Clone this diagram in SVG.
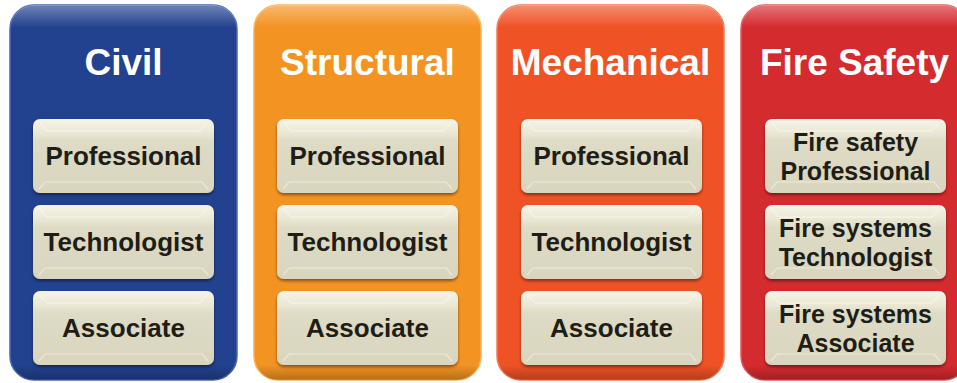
<svg xmlns="http://www.w3.org/2000/svg" width="957" height="383" viewBox="0 0 957 383">
  <defs>
    <linearGradient id="boxg" x1="0" y1="0" x2="0" y2="1">
      <stop offset="0" stop-color="#f6f4e8"/>
      <stop offset="0.18" stop-color="#ebe8d6"/>
      <stop offset="0.3" stop-color="#dedbc6"/>
      <stop offset="1" stop-color="#d9d5be"/>
    </linearGradient>
    <linearGradient id="gloss" x1="0" y1="0" x2="0" y2="1">
      <stop offset="0" stop-color="#ffffff" stop-opacity="0.35"/>
      <stop offset="0.06" stop-color="#ffffff" stop-opacity="0"/>
      <stop offset="0.96" stop-color="#000000" stop-opacity="0"/>
      <stop offset="1" stop-color="#000000" stop-opacity="0.25"/>
    </linearGradient>
    <filter id="sh" x="-10%" y="-10%" width="120%" height="130%">
      <feGaussianBlur in="SourceAlpha" stdDeviation="1.5"/>
      <feOffset dx="0" dy="2" result="b"/>
      <feComponentTransfer><feFuncA type="linear" slope="0.45"/></feComponentTransfer>
      <feMerge><feMergeNode/><feMergeNode in="SourceGraphic"/></feMerge>
    </filter>
    <g id="box">
      <rect x="0" y="0" width="181" height="74" rx="7" fill="url(#boxg)" filter="url(#sh)"/>
      <path d="M6 70 L12 63 L169 63 L175 70" fill="none" stroke="#ece9d9" stroke-width="1.2"/>
      <path d="M7 4 L14 12 L167 12 L174 4" fill="none" stroke="#ffffff" stroke-opacity="0.6" stroke-width="1"/>
    </g>
  </defs>
  <style>
    .hdr { font-family: "Liberation Sans", Arial, sans-serif; font-weight: bold; font-size: 37px; fill: #ffffff; text-anchor: middle; }
    .lbl { font-family: "Liberation Sans", Arial, sans-serif; font-weight: bold; font-size: 26px; fill: #1f1e16; text-anchor: middle; }
    .lbl2 { font-family: "Liberation Sans", Arial, sans-serif; font-weight: bold; font-size: 25px; fill: #1f1e16; text-anchor: middle; }
    .pnl { stroke-width: 1.5; }
  </style>
  <rect width="957" height="383" fill="#ffffff"/>

  <g id="civil">
    <rect class="pnl" x="10" y="5" width="227" height="375" rx="24" fill="#22428f" stroke="#4a69b5"/>
    <rect x="10" y="5" width="227" height="375" rx="24" fill="url(#gloss)"/>
    <text class="hdr" x="123.5" y="75">Civil</text>
    <g id="civil-professional"><use href="#box" x="33" y="119"/><text class="lbl" x="123.5" y="165">Professional</text></g>
    <g id="civil-technologist"><use href="#box" x="33" y="205"/><text class="lbl" x="123.5" y="251">Technologist</text></g>
    <g id="civil-associate"><use href="#box" x="33" y="291"/><text class="lbl" x="123.5" y="337">Associate</text></g>
  </g>

  <g id="structural">
    <rect class="pnl" x="254" y="5" width="227" height="375" rx="24" fill="#f39322" stroke="#f8b35a"/>
    <rect x="254" y="5" width="227" height="375" rx="24" fill="url(#gloss)"/>
    <text class="hdr" x="367.5" y="75">Structural</text>
    <g id="structural-professional"><use href="#box" x="277" y="119"/><text class="lbl" x="367.5" y="165">Professional</text></g>
    <g id="structural-technologist"><use href="#box" x="277" y="205"/><text class="lbl" x="367.5" y="251">Technologist</text></g>
    <g id="structural-associate"><use href="#box" x="277" y="291"/><text class="lbl" x="367.5" y="337">Associate</text></g>
  </g>

  <g id="mechanical">
    <rect class="pnl" x="497" y="5" width="227" height="375" rx="24" fill="#ef5225" stroke="#f47a55"/>
    <rect x="497" y="5" width="227" height="375" rx="24" fill="url(#gloss)"/>
    <text class="hdr" x="610.5" y="75">Mechanical</text>
    <g id="mechanical-professional"><use href="#box" x="521" y="119"/><text class="lbl" x="611.5" y="165">Professional</text></g>
    <g id="mechanical-technologist"><use href="#box" x="521" y="205"/><text class="lbl" x="611.5" y="251">Technologist</text></g>
    <g id="mechanical-associate"><use href="#box" x="521" y="291"/><text class="lbl" x="611.5" y="337">Associate</text></g>
  </g>

  <g id="fire-safety">
    <rect class="pnl" x="741" y="5" width="227" height="375" rx="24" fill="#d42b2f" stroke="#e25a5d"/>
    <rect x="741" y="5" width="227" height="375" rx="24" fill="url(#gloss)"/>
    <text class="hdr" x="854.5" y="75">Fire Safety</text>
    <g id="fire-professional"><use href="#box" x="765" y="119"/><text class="lbl2" x="855.5" y="151">Fire safety</text><text class="lbl2" x="855.5" y="179.5">Professional</text></g>
    <g id="fire-technologist"><use href="#box" x="765" y="205"/><text class="lbl2" x="855.5" y="237">Fire systems</text><text class="lbl2" x="855.5" y="265.5">Technologist</text></g>
    <g id="fire-associate"><use href="#box" x="765" y="291"/><text class="lbl2" x="855.5" y="323">Fire systems</text><text class="lbl2" x="855.5" y="351.5">Associate</text></g>
  </g>

  <g id="connectors"></g>
</svg>
